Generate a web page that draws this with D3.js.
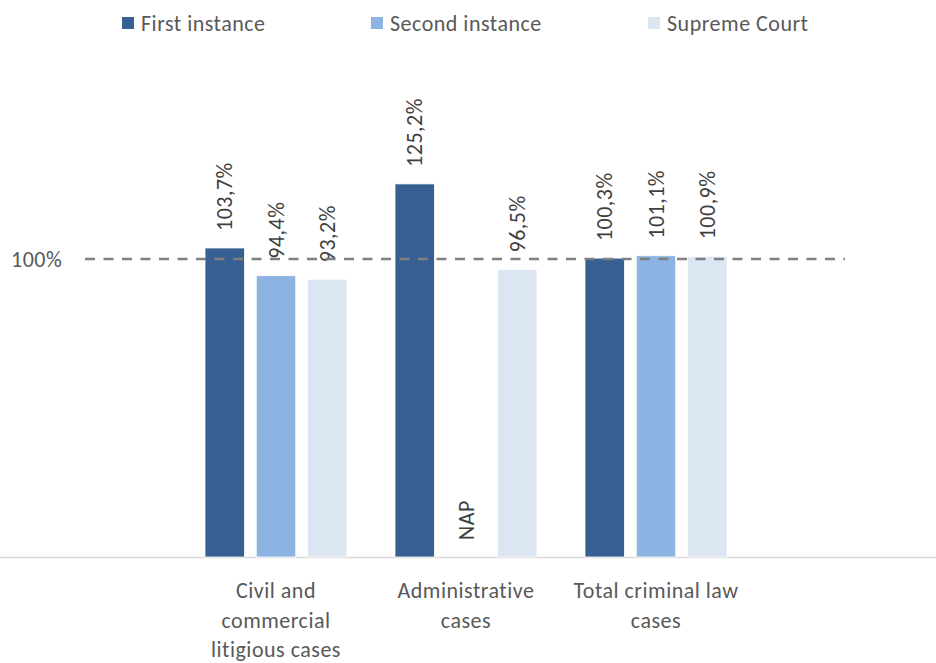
<!DOCTYPE html>
<html><head><meta charset="utf-8">
<script src="https://cdn.jsdelivr.net/npm/d3@7"></script>
<style>
html,body{margin:0;padding:0;background:#fff;}
text{font-family:Carlito,Calibri,Lato,"Liberation Sans",sans-serif;}
</style></head>
<body>
<svg id="chart" width="936" height="663"></svg>
<script>
const categories = [["Civil and","commercial","litigious cases"],["Administrative","cases"],["Total criminal law","cases"]];
const categoryKeys = ["civil","admin","criminal"];
const seriesNames = ["First instance","Second instance","Supreme Court"];
const firstInstance = [103.7, 125.2, 100.3];
const secondInstance = [94.4, null, 101.1];
const supremeCourt = [93.2, 96.5, 100.9];
const referenceValue = 100;
const colors = ["#375F92","#8DB3E2","#DCE6F2"];

const values = [firstInstance, secondInstance, supremeCourt];
const svg = d3.select("#chart");
const FS = 22, LS = 0.5;

const x0 = d3.scaleBand().domain(categoryKeys).range([181, 751]).paddingInner(0.2526).paddingOuter(0.1263);
const x1 = d3.scaleBand().domain(seriesNames).range([0, x0.bandwidth()]).paddingInner(0.23);
const y = d3.scaleLinear().domain([0, 140]).range([557, 557 - 140*2.98]);

const fmt = v => v.toFixed(1).replace(".", ",") + "%";

// baseline
svg.append("line").attr("x1", 0).attr("x2", 936).attr("y1", y(0)+0.5).attr("y2", y(0)+0.5)
  .attr("stroke", "#D9D9D9").attr("stroke-width", 1.5);

// bars
categoryKeys.forEach((c, ci) => {
  const g = svg.append("g").attr("transform", `translate(${x0(c)},0)`);
  seriesNames.forEach((s, si) => {
    const v = values[si][ci];
    const bx = x1(s), bw = x1.bandwidth();
    if (v != null) {
      g.append("rect").attr("x", bx).attr("width", bw).attr("y", y(v)).attr("height", y(0) - y(v))
        .attr("fill", colors[si]).attr("stroke", "#ffffff").attr("stroke-width", 0.8);
    }
    const ly = (v != null ? y(v) : y(0)) - 17;
    g.append("text").attr("transform", `translate(${bx + bw/2},${ly}) rotate(-90)`)
      .attr("dominant-baseline", "central").attr("text-anchor", "start")
      .attr("font-size", FS).attr("letter-spacing", LS).attr("fill", "#404040")
      .text(v != null ? fmt(v) : "NAP");
  });
});

// reference dashed line
svg.append("line").attr("x1", 85).attr("x2", 845).attr("y1", y(referenceValue)).attr("y2", y(referenceValue))
  .attr("stroke", "#7F7F7F").attr("stroke-width", 2.5).attr("stroke-dasharray", "10,8.5");
svg.append("text").attr("x", 11).attr("y", y(referenceValue)).attr("dominant-baseline", "central")
  .attr("font-size", FS).attr("letter-spacing", LS).attr("fill", "#595959").text(referenceValue + "%");

// category labels
categoryKeys.forEach((c, ci) => {
  const t = svg.append("text").attr("text-anchor", "middle").attr("font-size", FS).attr("letter-spacing", LS)
    .attr("fill", "#595959").attr("x", x0(c) + x0.bandwidth()/2).attr("y", 598);
  categories[ci].forEach((line, li) => {
    t.append("tspan").attr("x", x0(c) + x0.bandwidth()/2).attr("dy", li === 0 ? 0 : 29.5).text(line);
  });
});

// legend
const legendX = [122, 371, 648];
seriesNames.forEach((s, si) => {
  svg.append("rect").attr("x", legendX[si]).attr("y", 17).attr("width", 12).attr("height", 12).attr("fill", colors[si]);
  svg.append("text").attr("x", legendX[si] + 19).attr("y", 23).attr("dominant-baseline", "central")
    .attr("font-size", FS).attr("letter-spacing", LS).attr("fill", "#595959").text(s);
});
</script>
</body></html>
